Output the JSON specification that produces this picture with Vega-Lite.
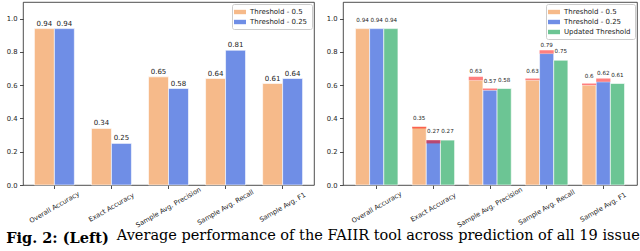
{
  "$schema": "https://vega.github.io/schema/vega-lite/v6.json",
  "background": "white",
  "padding": {"left": 5, "top": 1, "right": 0, "bottom": 0},
  "spacing": 10,
  "title": {
    "text": "Average performance of the FAIIR tool across prediction of all 19 issue",
    "orient": "bottom",
    "anchor": "start",
    "font": "DejaVu Serif",
    "fontSize": 14.5,
    "fontWeight": "normal",
    "color": "black",
    "offset": 0,
    "dx": 111,
    "dy": -17
  },
  "datasets": {
    "left": [
      {"category": "Overall Accuracy", "series": "Threshold - 0.5", "value": 0.94},
      {"category": "Overall Accuracy", "series": "Threshold - 0.25", "value": 0.94},
      {"category": "Exact Accuracy", "series": "Threshold - 0.5", "value": 0.34},
      {"category": "Exact Accuracy", "series": "Threshold - 0.25", "value": 0.25},
      {"category": "Sample Avg. Precision", "series": "Threshold - 0.5", "value": 0.65},
      {"category": "Sample Avg. Precision", "series": "Threshold - 0.25", "value": 0.58},
      {"category": "Sample Avg. Recall", "series": "Threshold - 0.5", "value": 0.64},
      {"category": "Sample Avg. Recall", "series": "Threshold - 0.25", "value": 0.81},
      {"category": "Sample Avg. F1", "series": "Threshold - 0.5", "value": 0.61},
      {"category": "Sample Avg. F1", "series": "Threshold - 0.25", "value": 0.64}
    ],
    "right": [
      {"category": "Overall Accuracy", "series": "Threshold - 0.5", "value": 0.94, "prev": 0.94},
      {"category": "Overall Accuracy", "series": "Threshold - 0.25", "value": 0.94, "prev": 0.94},
      {"category": "Overall Accuracy", "series": "Updated Threshold", "value": 0.94, "prev": null},
      {"category": "Exact Accuracy", "series": "Threshold - 0.5", "value": 0.35, "prev": 0.34},
      {"category": "Exact Accuracy", "series": "Threshold - 0.25", "value": 0.27, "prev": 0.25},
      {"category": "Exact Accuracy", "series": "Updated Threshold", "value": 0.27, "prev": null},
      {"category": "Sample Avg. Precision", "series": "Threshold - 0.5", "value": 0.63, "prev": 0.65},
      {"category": "Sample Avg. Precision", "series": "Threshold - 0.25", "value": 0.57, "prev": 0.58},
      {"category": "Sample Avg. Precision", "series": "Updated Threshold", "value": 0.58, "prev": null},
      {"category": "Sample Avg. Recall", "series": "Threshold - 0.5", "value": 0.63, "prev": 0.64},
      {"category": "Sample Avg. Recall", "series": "Threshold - 0.25", "value": 0.79, "prev": 0.81},
      {"category": "Sample Avg. Recall", "series": "Updated Threshold", "value": 0.75, "prev": null},
      {"category": "Sample Avg. F1", "series": "Threshold - 0.5", "value": 0.6, "prev": 0.61},
      {"category": "Sample Avg. F1", "series": "Threshold - 0.25", "value": 0.62, "prev": 0.64},
      {"category": "Sample Avg. F1", "series": "Updated Threshold", "value": 0.61, "prev": null}
    ]
  },
  "config": {
    "font": "DejaVu Sans",
    "view": {"stroke": "#222", "strokeWidth": 0.8},
    "axis": {
      "labelFont": "DejaVu Sans",
      "labelColor": "#222",
      "domain": false,
      "tickColor": "#222",
      "tickSize": 3.5,
      "tickWidth": 0.8,
      "grid": false,
      "title": null
    },
    "axisY": {"labelFontSize": 6.8, "labelPadding": 2.5},
    "axisX": {"labelFontSize": 6.7, "labelAngle": -30, "labelAlign": "center", "labelBaseline": "middle", "labelPadding": 18.5},
    "legend": {
      "orient": "top-right",
      "offset": 2,
      "title": null,
      "fillColor": "white",
      "strokeColor": "#cccccc",
      "cornerRadius": 2,
      "padding": 4,
      "labelFont": "DejaVu Sans",
      "labelFontSize": 7,
      "labelColor": "#222",
      "rowPadding": 3,
      "labelOffset": 6,
      "symbolType": "M-1.5,-0.55H1.5V0.55H-1.5Z",
      "symbolSize": 64,
      "symbolStrokeWidth": 0,
      "symbolOpacity": 1
    }
  },
  "resolve": {
    "scale": {"x": "independent", "y": "independent", "xOffset": "independent", "color": "independent"},
    "legend": {"color": "independent"}
  },
  "hconcat": [
    {
      "width": 291,
      "height": 183,
      "title": {
        "text": "Fig. 2: (Left)",
        "orient": "bottom",
        "anchor": "start",
        "font": "DejaVu Serif",
        "fontSize": 14.5,
        "fontWeight": "bold",
        "color": "black",
        "offset": 3
      },
      "data": {"name": "left"},
      "encoding": {
        "x": {
          "field": "category", "type": "nominal",
          "sort": ["Overall Accuracy", "Exact Accuracy", "Sample Avg. Precision", "Sample Avg. Recall", "Sample Avg. F1"],
          "scale": {"paddingInner": 0.3, "paddingOuter": 0.2}
        },
        "xOffset": {
          "field": "series", "type": "nominal",
          "scale": {"domain": ["Threshold - 0.5", "Threshold - 0.25"], "paddingInner": 0, "paddingOuter": 0}
        },
        "y": {
          "field": "value", "type": "quantitative",
          "scale": {"domain": [0, 1.1], "nice": false},
          "axis": {"values": [0, 0.2, 0.4, 0.6, 0.8, 1.0], "format": ".1f"}
        }
      },
      "layer": [
        {
          "mark": {"type": "bar", "stroke": "white", "strokeWidth": 0.6},
          "encoding": {
            "color": {
              "field": "series", "type": "nominal",
              "scale": {"domain": ["Threshold - 0.5", "Threshold - 0.25"], "range": ["#F6BA8A", "#6F8EE6"]}
            }
          }
        },
        {
          "mark": {"type": "text", "baseline": "bottom", "dy": -2, "fontSize": 7, "color": "#222"},
          "encoding": {"text": {"field": "value", "type": "quantitative", "format": ".2~f"}}
        }
      ]
    },
    {
      "width": 294,
      "height": 183,
      "data": {"name": "right"},
      "encoding": {
        "x": {
          "field": "category", "type": "nominal",
          "sort": ["Overall Accuracy", "Exact Accuracy", "Sample Avg. Precision", "Sample Avg. Recall", "Sample Avg. F1"],
          "scale": {"paddingInner": 0.25, "paddingOuter": 0.22}
        },
        "xOffset": {
          "field": "series", "type": "nominal",
          "scale": {"domain": ["Threshold - 0.5", "Threshold - 0.25", "Updated Threshold"], "paddingInner": 0, "paddingOuter": 0}
        },
        "y": {
          "field": "value", "type": "quantitative",
          "scale": {"domain": [0, 1.1], "nice": false},
          "axis": {"values": [0, 0.2, 0.4, 0.6, 0.8, 1.0], "format": ".1f"}
        }
      },
      "layer": [
        {
          "mark": {"type": "bar", "stroke": "white", "strokeWidth": 0.6},
          "encoding": {
            "color": {
              "field": "series", "type": "nominal",
              "scale": {"domain": ["Threshold - 0.5", "Threshold - 0.25", "Updated Threshold"], "range": ["#F6BA8A", "#6F8EE6", "#6CC594"]}
            }
          }
        },
        {
          "mark": {"type": "bar", "color": "red", "opacity": 0.5},
          "encoding": {
            "y": {"field": "prev", "type": "quantitative"},
            "y2": {"field": "value"}
          }
        },
        {
          "mark": {"type": "text", "baseline": "middle", "dy": -9, "fontSize": 5.6, "color": "#222"},
          "encoding": {"text": {"field": "value", "type": "quantitative", "format": ".2~f"}}
        }
      ]
    }
  ]
}
